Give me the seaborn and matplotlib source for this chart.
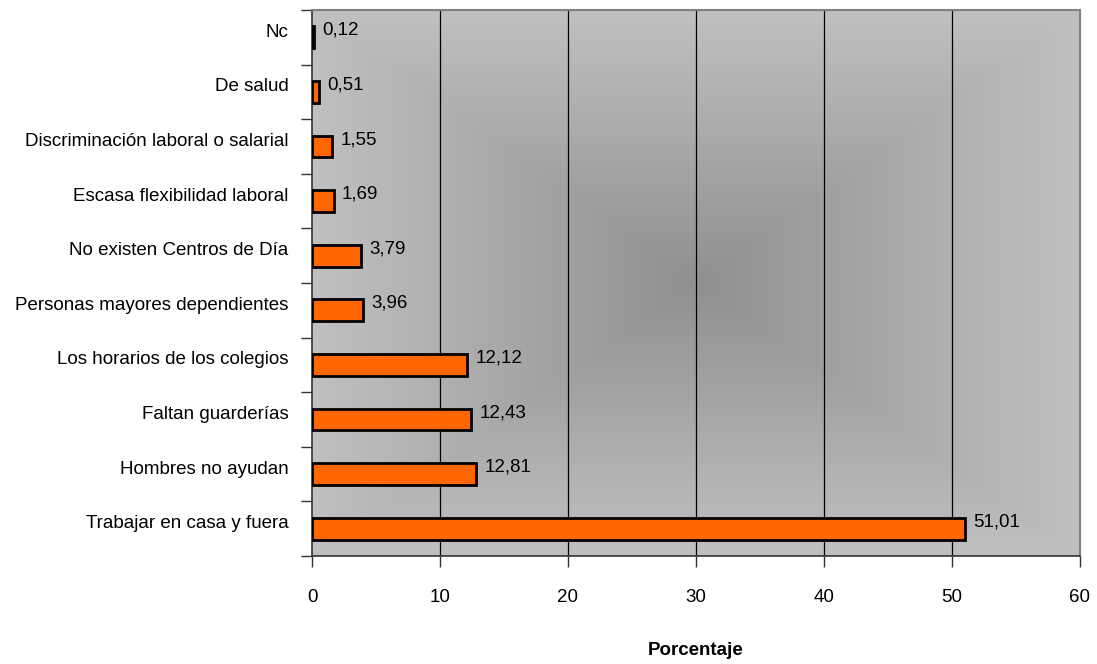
import numpy as np
import pandas as pd
import matplotlib
matplotlib.use("Agg")
import matplotlib.pyplot as plt
import matplotlib.transforms as mtransforms
import seaborn as sns
from matplotlib.colors import LinearSegmentedColormap

# ── Data ──────────────────────────────────────────────────────────────────────
categories = [
    "Nc",
    "De salud",
    "Discriminación laboral o salarial",
    "Escasa flexibilidad laboral",
    "No existen Centros de Día",
    "Personas mayores dependientes",
    "Los horarios de los colegios",
    "Faltan guarderías",
    "Hombres no ayudan",
    "Trabajar en casa y fuera",
]
values = [0.12, 0.51, 1.55, 1.69, 3.79, 3.96, 12.12, 12.43, 12.81, 51.01]
x_ticks = [0, 10, 20, 30, 40, 50, 60]

df = pd.DataFrame({"motivo": categories, "pct": values})

sns.set_style("white")
plt.rcParams["font.family"] = ["Liberation Sans", "DejaVu Sans"]
plt.rcParams["text.color"] = "black"
plt.rcParams["axes.labelcolor"] = "black"
plt.rcParams["xtick.labelcolor"] = "black"
plt.rcParams["ytick.labelcolor"] = "black"
FS = 13.5

fig = plt.figure(figsize=(10.97, 6.64), dpi=100)
ax = fig.add_axes([312 / 1097, 1 - 556 / 664, (1080 - 312) / 1097, (556 - 10) / 664])

sns.barplot(data=df, x="pct", y="motivo", orient="h", color="#FF6600",
            saturation=1, edgecolor="black", linewidth=2, width=0.4, ax=ax, zorder=3)

# ── Background: rectangular gradient from centre (Excel style) ────────────────
n = len(categories)
gx = np.linspace(-1, 1, 400)
gy = np.linspace(-1, 1, 300)
GX, GY = np.meshgrid(gx, gy)
grad = np.maximum(np.abs(GX), np.abs(GY))
cmap = LinearSegmentedColormap.from_list("bg", ["#909090", "#C0C0C0"])
ax.imshow(grad, cmap=cmap, extent=(0, 60, n - 0.5, -0.5), aspect="auto",
          zorder=0, interpolation="bilinear")

ax.set_xlim(0, 60)
ax.set_ylim(n - 0.5, -0.5)
ax.set_xticks(x_ticks)
ax.set_xticklabels([str(t) for t in x_ticks], fontsize=FS)
for t in x_ticks[1:-1]:
    ax.axvline(t, color="black", linewidth=0.9, zorder=1)

# y ticks: labels at centre, tick marks at boundaries
ax.tick_params(axis="y", which="major", left=False, length=0, pad=17, labelsize=FS)
ax.set_yticks(np.arange(-0.5, n, 1), minor=True)
ax.tick_params(axis="y", which="minor", left=True, length=8, width=1,
               color="#333333", direction="out")
ax.tick_params(axis="x", which="major", bottom=True, length=8, width=1,
               color="#333333", direction="out", pad=16)

# category labels sit a little above the bar centre
shift = mtransforms.ScaledTranslation(0, 7 / 100, fig.dpi_scale_trans)
for lbl in ax.get_yticklabels():
    lbl.set_transform(lbl.get_transform() + shift)

ax.set_ylabel("")
ax.set_xlabel("Porcentaje", fontsize=FS, fontweight="bold")
ax.xaxis.set_label_coords(0.5, -0.158)

for side in ["top", "right"]:
    ax.spines[side].set_color("#808080")
    ax.spines[side].set_linewidth(1.5)
for side in ["left", "bottom"]:
    ax.spines[side].set_color("#333333")
    ax.spines[side].set_linewidth(1.2)

labels = [f"{v:.2f}".replace(".", ",") for v in values]
for i, (v, lab) in enumerate(zip(values, labels)):
    ax.annotate(lab, xy=(v, i), xytext=(6, 5), textcoords="offset points",
                va="center", ha="left", fontsize=FS, zorder=4)

fig.savefig("out.png", dpi=100)
